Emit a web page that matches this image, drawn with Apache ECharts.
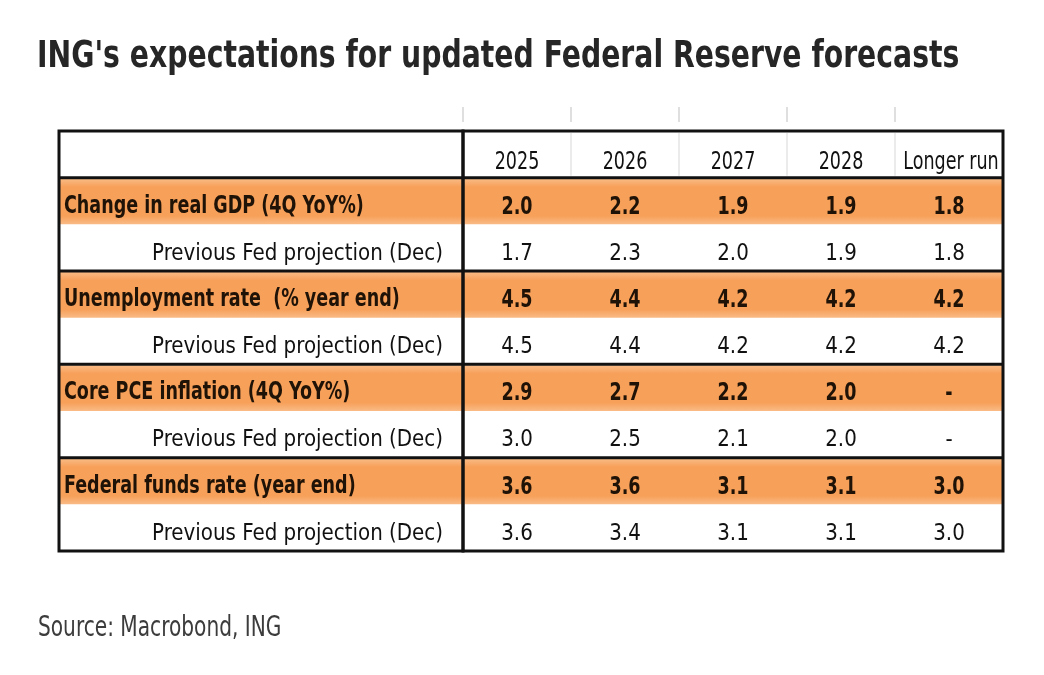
<!DOCTYPE html>
<html>
<head>
<meta charset="utf-8">
<title>ING's expectations for updated Federal Reserve forecasts</title>
<script src="https://cdn.jsdelivr.net/npm/echarts@6/dist/echarts.min.js"></script>
<style>
html, body { margin: 0; padding: 0; background: #fff; }
#main { width: 1044px; height: 675px; }
</style>
</head>
<body>
<div id="main"></div>
<script>
// 表头
var columns = ['2025', '2026', '2027', '2028', 'Longer run'];
var rowKeys = ['head', 'gdp', 'gdpPrev', 'unemp', 'unempPrev', 'pce', 'pcePrev', 'ffr', 'ffrPrev'];
var rowNames = ['', 'Change in real GDP (4Q YoY%)', 'Previous Fed projection (Dec)',
	'Unemployment rate  (% year end)', 'Previous Fed projection (Dec)',
	'Core PCE inflation (4Q YoY%)', 'Previous Fed projection (Dec)',
	'Federal funds rate (year end)', 'Previous Fed projection (Dec)'];

// 数值 (null = 无数据)
var gdp = [2.0, 2.2, 1.9, 1.9, 1.8];
var gdpPrev = [1.7, 2.3, 2.0, 1.9, 1.8];
var unemp = [4.5, 4.4, 4.2, 4.2, 4.2];
var unempPrev = [4.5, 4.4, 4.2, 4.2, 4.2];
var pce = [2.9, 2.7, 2.2, 2.0, null];
var pcePrev = [3.0, 2.5, 2.1, 2.0, null];
var ffr = [3.6, 3.6, 3.1, 3.1, 3.0];
var ffrPrev = [3.6, 3.4, 3.1, 3.1, 3.0];

var rowValues = [null, gdp, gdpPrev, unemp, unempPrev, pce, pcePrev, ffr, ffrPrev];

var FONT = "'DejaVu Sans Condensed', 'Liberation Sans Narrow', sans-serif";
var ORANGE = new echarts.graphic.LinearGradient(0, 0, 0, 1, [
	{ offset: 0, color: '#f9bb86' },
	{ offset: 0.18, color: '#f7a05a' },
	{ offset: 0.82, color: '#f7a05a' },
	{ offset: 1, color: '#f9bb86' }
]);

/* ---------------------------------------------函数--------------------------------------------- */
function cellBox(api) {
	var p = api.coord([api.value(0), api.value(1)]);
	var s = api.size([1, 1]);
	return { x: p[0] - s[0] / 2, y: p[1] - s[1] / 2, w: s[0], h: s[1] };
}

// 压窄的文字 (参考图字体较窄)
function narrowText(txt, x, y, align, kind) {
	var sty = { bold: [25, 'bold', 0.78, '#1f1206'], normal: [23, 'normal', 0.96, '#111'], head: [25, 'normal', 0.78, '#111'] }[kind];
	return {
		type: 'text', z2: 6, x: x, y: y, scaleX: sty[2],
		style: {
			text: txt, x: 0, y: 0, align: align, verticalAlign: 'middle',
			fontFamily: FONT, fontSize: sty[0], fontWeight: sty[1], fill: sty[3]
		}
	};
}

// 格子底色 + 分组粗线
function baseChildren(box, row) {
	var list = [];
	if (row % 2 == 1) {
		list.push({ type: 'rect', shape: { x: box.x, y: box.y + 1, width: box.w, height: box.h - 1 }, style: { fill: ORANGE }, z2: 0 });
	}
	if (row == 0 || (row % 2 == 0 && row < rowKeys.length - 1)) {
		var yb = box.y + box.h;
		list.push({ type: 'line', shape: { x1: box.x, y1: yb, x2: box.x + box.w, y2: yb }, style: { stroke: '#111', lineWidth: 3 }, z2: 5 });
	}
	return list;
}

function renderLabel(params, api) {
	var row = api.value(1);
	var box = cellBox(api);
	var list = baseChildren(box, row);
	var txt = rowNames[row];
	if (txt) {
		var main = row % 2 == 1;
		var cy = box.y + box.h / 2 + (main ? 5 : 6);
		if (main) {
			list.push(narrowText(txt, box.x + 5, cy, 'left', 'bold'));
		} else {
			list.push(narrowText(txt, box.x + box.w - 20, cy, 'right', 'normal'));
		}
	}
	return { type: 'group', children: list };
}

function renderValue(params, api) {
	var col = api.value(0);
	var row = api.value(1);
	var box = cellBox(api);
	var list = baseChildren(box, row);
	var cx = box.x + box.w / 2;
	var cy = box.y + box.h / 2;
	if (row == 0) {
		// 表头上方浅灰刻度
		list.push({ type: 'line', shape: { x1: box.x, y1: box.y - 24, x2: box.x, y2: box.y - 9 }, style: { stroke: '#d4d4d4', lineWidth: 1.5 } });
		if (col > 0) {
			list.push({ type: 'line', shape: { x1: box.x, y1: box.y + 2, x2: box.x, y2: box.y + box.h - 2 }, style: { stroke: '#e4e4e4', lineWidth: 1.5 } });
		}
		list.push(narrowText(columns[col], col == 4 ? cx + 2 : cx, cy + 8, 'center', 'head'));
	} else {
		var v = rowValues[row][col];
		var txt = v == null ? '-' : v.toFixed(1);
		var bold = row % 2 == 1;
		list.push(narrowText(txt, cx, cy + 6, 'center', bold ? 'bold' : 'normal'));
	}
	return { type: 'group', children: list };
}

var labelData = [];
var valueData = [];
for (var r = 0; r < rowKeys.length; r++) {
	labelData.push([0, r]);
	for (var c = 0; c < columns.length; c++) {
		valueData.push([c, r]);
	}
}

var chart = echarts.init(document.getElementById('main'));
var option = {
	backgroundColor: '#fff',
	animation: false,
	graphic: [{
		type: 'text', x: 37, y: 57, scaleX: 0.85,
		style: {
			text: "ING's expectations for updated Federal Reserve forecasts",
			verticalAlign: 'middle',
			fontFamily: FONT, fontSize: 37, fontWeight: 'bold', fill: '#262626'
		}
	}, {
		type: 'text', x: 38, y: 629, scaleX: 0.8,
		style: {
			text: 'Source: Macrobond, ING',
			verticalAlign: 'middle',
			fontFamily: FONT, fontSize: 28, fontWeight: 'normal', fill: '#3c3c3c'
		}
	}],
	grid: [
		{ left: 59, top: 131, width: 404, height: 420, show: true, borderColor: '#111', borderWidth: 3, backgroundColor: 'transparent', z: 10 },
		{ left: 463, top: 131, width: 540, height: 420, show: true, borderColor: '#111', borderWidth: 3, backgroundColor: 'transparent', z: 10 }
	],
	xAxis: [
		{ gridIndex: 0, type: 'category', data: ['label'], show: false },
		{ gridIndex: 1, type: 'category', data: columns, show: false }
	],
	yAxis: [
		{ gridIndex: 0, type: 'category', data: rowKeys, inverse: true, show: false },
		{ gridIndex: 1, type: 'category', data: rowKeys, inverse: true, show: false }
	],
	series: [
		{ type: 'custom', xAxisIndex: 0, yAxisIndex: 0, data: labelData, renderItem: renderLabel, clip: false, silent: true },
		{ type: 'custom', xAxisIndex: 1, yAxisIndex: 1, data: valueData, renderItem: renderValue, clip: false, silent: true }
	]
};
chart.setOption(option);
</script>
</body>
</html>
